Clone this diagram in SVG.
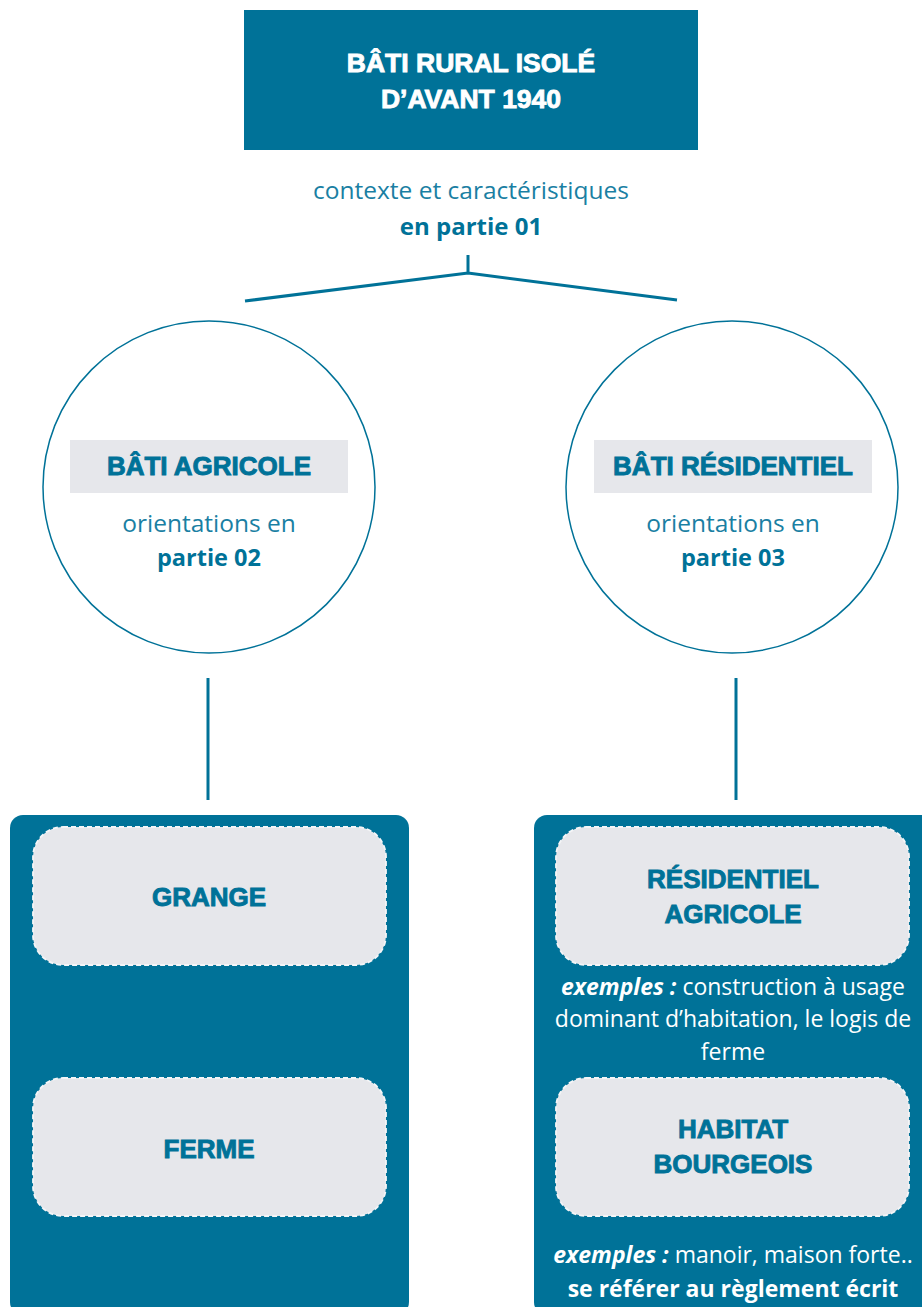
<svg xmlns="http://www.w3.org/2000/svg" width="922" height="1307" viewBox="0 0 922 1307">
<style>
.blue{fill:#007298}
.head{font-family:"Liberation Sans",Arial,sans-serif;font-weight:700;font-size:26px;text-anchor:middle;stroke-width:0.9}
.hb{fill:#007298;stroke:#007298}
.hw{fill:#ffffff;stroke:#ffffff}
.lt{font-family:"Open Sans","Liberation Sans",sans-serif;font-weight:400;text-anchor:middle}
.bd{font-family:"Open Sans","Liberation Sans",sans-serif;font-weight:700;text-anchor:middle}
.up{font-size:24.5px}
.low{font-size:23px}
.conn{stroke:#007298;stroke-width:3;fill:none}
.label{fill:#e6e7eb}
.dash{fill:#e6e7eb;stroke:#f4f5f7;stroke-width:1.8;stroke-dasharray:5 3}
</style>
<rect width="922" height="1307" fill="#ffffff"/>
<g id="connectors">
<path class="conn" d="M468 255 V273 M245 301 L468 273 L677 300"/>
<path class="conn" d="M208 678 V800 M736 678 V800"/>
</g>
<g id="top">
<rect x="244" y="10" width="454" height="140" class="blue"/>
<text class="head hw" x="471" y="72" style="font-size:26.5px">BÂTI RURAL ISOLÉ</text>
<text class="head hw" x="471" y="108" style="font-size:26.5px">D’AVANT 1940</text>
</g>
<g id="context">
<text class="lt up" x="471" y="199" fill="#1a7fa3">contexte et caractéristiques</text>
<text class="bd" x="471" y="235" fill="#007298" style="font-size:24px">en partie 01</text>
</g>
<g id="agricole">
<circle cx="209" cy="487" r="166" fill="#ffffff" stroke="#007298" stroke-width="1.5"/>
<rect x="70" y="440" width="278" height="53" class="label"/>
<text class="head hb" x="209" y="475">BÂTI AGRICOLE</text>
<text class="lt up" x="209" y="532" fill="#1a7fa3">orientations en</text>
<text class="bd" x="209" y="566" fill="#007298" style="font-size:23.5px">partie 02</text>
</g>
<g id="residentiel">
<circle cx="732" cy="487" r="166" fill="#ffffff" stroke="#007298" stroke-width="1.5"/>
<rect x="594" y="440" width="278" height="53" class="label"/>
<text class="head hb" x="733" y="475">BÂTI RÉSIDENTIEL</text>
<text class="lt up" x="733" y="532" fill="#1a7fa3">orientations en</text>
<text class="bd" x="733" y="566" fill="#007298" style="font-size:23.5px">partie 03</text>
</g>
<g id="panel-left">
<rect x="10" y="815" width="399" height="500" rx="13" class="blue"/>
</g>
<g id="grange">
<rect x="33" y="827" width="353" height="138" rx="30" class="dash"/>
<text class="head hb" x="209" y="906">GRANGE</text>
</g>
<g id="ferme">
<rect x="33" y="1078" width="353" height="138" rx="30" class="dash"/>
<text class="head hb" x="209" y="1158">FERME</text>
</g>
<g id="panel-right">
<rect x="534" y="815" width="400" height="500" rx="13" class="blue"/>
</g>
<g id="residentiel-agricole">
<rect x="556" y="827" width="353" height="138" rx="30" class="dash"/>
<text class="head hb" x="733" y="888">RÉSIDENTIEL</text>
<text class="head hb" x="733" y="923">AGRICOLE</text>
<text class="lt low" x="733" y="995" fill="#ffffff"><tspan font-weight="700" font-style="italic">exemples :</tspan> construction à usage</text>
<text class="lt low" x="733" y="1027" fill="#ffffff">dominant d’habitation, le logis de</text>
<text class="lt low" x="733" y="1060" fill="#ffffff">ferme</text>
</g>
<g id="habitat-bourgeois">
<rect x="556" y="1078" width="353" height="138" rx="30" class="dash"/>
<text class="head hb" x="733" y="1138">HABITAT</text>
<text class="head hb" x="733" y="1173">BOURGEOIS</text>
<text class="lt low" x="733" y="1263" fill="#ffffff"><tspan font-weight="700" font-style="italic">exemples :</tspan> manoir, maison forte..</text>
<text class="bd low" x="733" y="1297" fill="#ffffff">se référer au règlement écrit</text>
</g>
</svg>
